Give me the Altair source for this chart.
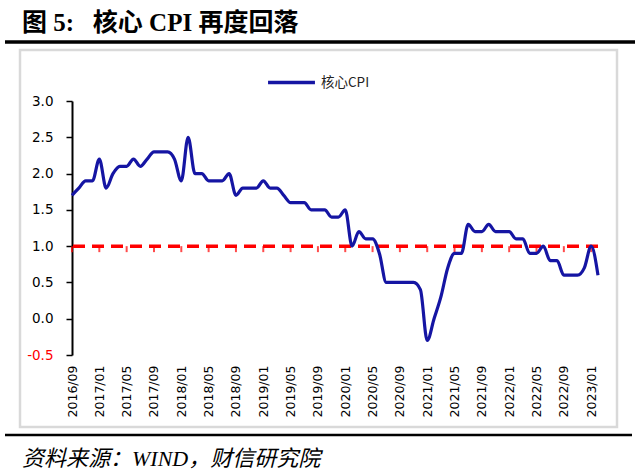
import altair as alt
import pandas as pd

# ---- data ----
start_year, start_month, n_months = 2016, 9, 78
months = []
y, m = start_year, start_month
for _ in range(n_months):
    months.append(f"{y}/{m:02d}")
    m += 1
    if m > 12:
        m = 1
        y += 1

core_cpi = [
    1.7, 1.8, 1.9, 1.9,                                            # 2016/09-12
    2.2, 1.8, 2.0, 2.1, 2.1, 2.2, 2.1, 2.2, 2.3, 2.3, 2.3, 2.2,    # 2017
    1.9, 2.5, 2.0, 2.0, 1.9, 1.9, 1.9, 2.0, 1.7, 1.8, 1.8, 1.8,    # 2018
    1.9, 1.8, 1.8, 1.7, 1.6, 1.6, 1.6, 1.5, 1.5, 1.5, 1.4, 1.4,    # 2019
    1.5, 1.0, 1.2, 1.1, 1.1, 0.9, 0.5, 0.5, 0.5, 0.5, 0.5, 0.4,    # 2020
    -0.3, 0.0, 0.3, 0.7, 0.9, 0.9, 1.3, 1.2, 1.2, 1.3, 1.2, 1.2,   # 2021
    1.2, 1.1, 1.1, 0.9, 0.9, 1.0, 0.8, 0.8, 0.6, 0.6, 0.6, 0.7,    # 2022
    1.0, 0.6,                                                      # 2023
]
tick_months = months[::4]
y_ticks = [-0.5, 0.0, 0.5, 1.0, 1.5, 2.0, 2.5, 3.0]
threshold = [1.0]
series_name = "核心CPI"
title_text = "图\u20055:\u2002\u2005核心 CPI 再度回落"
source_text = "资料来源：WIND，财信研究院"

df = pd.DataFrame({"month": months, "value": core_cpi, "series": series_name})
df_ticks = pd.DataFrame({"month": tick_months, "value": threshold * len(tick_months)})
df_thr = pd.DataFrame({"value": threshold})

x_scale = alt.Scale(type="point", domain=months, padding=0)
y_scale = alt.Scale(domain=[-0.5, 3.0], nice=False, zero=False)

x_axis = alt.Axis(values=tick_months, labelAngle=-90, labelPadding=10, ticks=False,
                  domain=False, grid=False, title=None, labelFont="DejaVu Sans",
                  labelFontSize=12.5, labelColor="black", labelOverlap=False)
y_axis = alt.Axis(values=y_ticks, tickCount=len(y_ticks) + 2, grid=False, title=None,
                  tickSize=6, tickColor="black", tickWidth=1.5, domainColor="black",
                  domainWidth=2, labelPadding=13, labelFont="DejaVu Sans", labelFontSize=13.5,
                  labelOverlap=False, labelFlush=False,
                  labelExpr="datum.value < 0 ? '-' + format(-datum.value, '.1f') : format(datum.value, '.1f')",
                  labelColor=alt.ExprRef("datum.value < 0 ? '#ff0000' : '#000000'"))

line = alt.Chart(df).mark_line(interpolate="monotone", strokeWidth=3.2).encode(
    x=alt.X("month:O", scale=x_scale, axis=x_axis, sort=months),
    y=alt.Y("value:Q", scale=y_scale, axis=y_axis),
    color=alt.Color("series:N", scale=alt.Scale(range=["#1515A3"]),
                    legend=alt.Legend(orient="none", legendX=194, legendY=-44,
                                      title=None, symbolType="stroke", symbolSize=2200,
                                      symbolStrokeWidth=3.5, labelFontSize=13.5,
                                      labelFont="Noto Sans CJK SC", labelColor="#222222",
                                      labelOffset=4)),
)

thr = alt.Chart(df_thr).mark_rule(color="#ff0000", strokeDash=[12, 7], strokeWidth=3.5).encode(
    y=alt.Y("value:Q", scale=y_scale)
)

red_ticks = alt.Chart(df_ticks).mark_tick(color="#ff0000", orient="vertical", size=6,
                                          thickness=2, yOffset=3).encode(
    x=alt.X("month:O", scale=x_scale, sort=months),
    y=alt.Y("value:Q", scale=y_scale),
)

one = pd.DataFrame({"t": [title_text]})
frame = alt.Chart(one).mark_rect(filled=False, stroke="#d9d9d9", strokeWidth=2.5).encode(
    x=alt.value(-52), x2=alt.value(545), y=alt.value(-51), y2=alt.value(326)
)
title = alt.Chart(one).mark_text(align="left", baseline="alphabetic", fontSize=25,
                                 fontWeight="bold",
                                 font="Liberation Serif, Noto Sans CJK SC").encode(
    text="t:N", x=alt.value(-50), y=alt.value(-70)
)
title_rule = alt.Chart(one).mark_rule(color="black", strokeWidth=3.5).encode(
    x=alt.value(-67), x2=alt.value(563), y=alt.value(-59)
)
src = pd.DataFrame({"t": [source_text]})
footer_rule = alt.Chart(src).mark_rule(color="black", strokeWidth=2.5).encode(
    x=alt.value(-67), x2=alt.value(560), y=alt.value(334)
)
footer = alt.Chart(src).mark_text(align="left", baseline="alphabetic", fontSize=22,
                                  fontStyle="italic",
                                  font="Liberation Serif, Noto Sans CJK SC").encode(
    text="t:N", x=alt.value(-50), y=alt.value(365)
)

chart = alt.layer(frame, thr, red_ticks, line, title, title_rule, footer_rule, footer).properties(
    width=526, height=254,
    autosize=alt.AutoSizeParams(type="none"),
    padding={"left": 72, "top": 101, "right": 42, "bottom": 117},
    background="white",
).configure_view(stroke=None)

chart.save("out.html", embed_options={"renderer": "svg", "actions": False})
